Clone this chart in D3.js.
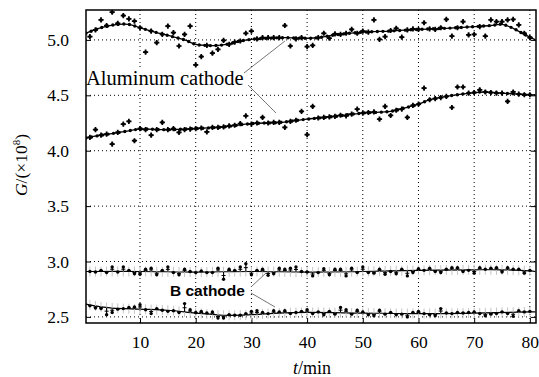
<!DOCTYPE html>
<html>
<head>
<meta charset="utf-8">
<script src="https://cdn.jsdelivr.net/npm/d3@7"></script>
<style>
  body { margin: 0; background: #fff; }
</style>
</head>
<body>
<script>
// sample times, one reading per minute
const minutes = d3.range(1, 81);

// Aluminum cathode, upper run (x10^8)
const alTopRaw = [
  5.03, 5.09, 5.18, 5.13, 5.25, 5.15, 5.22, 5.19, 5.17, 5.11,
  4.89, 5.08, 4.975, 5.05, 5.125, 5.065, 4.945, 5.05, 5.125, 4.775,
  4.85, 4.95, 4.88, 4.915, 4.995, 4.96, 4.98, 4.99, 5.06, 5.08,
  5.01, 5.02, 5.02, 5.02, 5.02, 5.13, 4.945, 5.01, 5.02, 4.94,
  4.95, 5.02, 5.06, 5.015, 5.055, 5.05, 5.06, 5.095, 5.06, 5.08,
  5.07, 5.18, 5.005, 5.03, 5.085, 5.105, 5.025, 5.09, 5.10, 5.095,
  5.155, 5.10, 5.095, 5.11, 5.185, 5.035, 5.11, 5.165, 5.045, 5.05,
  5.12, 5.035, 5.18, 5.165, 5.165, 5.18, 5.185, 5.135, 5.06, 5.02
];
const alTopFitT = [0.3, 3, 6, 8, 10, 12, 15, 18, 20, 22, 24, 26, 28, 30, 33, 36, 40, 42, 45, 50, 55, 60, 65, 70, 73, 75, 77, 79, 81];
const alTopFit = [5.06, 5.11, 5.14, 5.14, 5.11, 5.08, 5.04, 5.0, 4.96, 4.95, 4.95, 4.965, 4.99, 5.005, 5.015, 5.02, 5.015, 5.02, 5.045, 5.07, 5.08, 5.095, 5.105, 5.12, 5.13, 5.14, 5.105, 5.05, 5.0];

// Aluminum cathode, lower run
const alLowRaw = [
  4.12, 4.19, 4.14, 4.15, 4.06, 4.165, 4.24, 4.265, 4.09, 4.20,
  4.19, 4.14, 4.19, 4.255, 4.19, 4.20, 4.165, 4.19, 4.195, 4.20,
  4.205, 4.17, 4.21, 4.21, 4.215, 4.225, 4.23, 4.245, 4.315, 4.24,
  4.25, 4.30, 4.25, 4.255, 4.255, 4.21, 4.265, 4.275, 4.355, 4.145,
  4.40, 4.295, 4.30, 4.305, 4.31, 4.32, 4.315, 4.33, 4.375, 4.34,
  4.345, 4.35, 4.285, 4.40, 4.318, 4.365, 4.375, 4.30, 4.41, 4.42,
  4.565, 4.46, 4.47, 4.48, 4.49, 4.39, 4.575, 4.575, 4.52, 4.525,
  4.55, 4.53, 4.525, 4.52, 4.52, 4.445, 4.53, 4.51, 4.505, 4.505
];
const alLowFitT = [0.3, 3, 5, 8, 10, 15, 20, 25, 30, 35, 40, 45, 50, 55, 57, 60, 62, 65, 70, 72, 75, 80, 81];
const alLowFit = [4.115, 4.14, 4.155, 4.18, 4.195, 4.19, 4.2, 4.215, 4.245, 4.255, 4.285, 4.31, 4.34, 4.355, 4.38, 4.42, 4.46, 4.49, 4.525, 4.53, 4.52, 4.505, 4.505];

// B cathode, upper run
const bTopRaw = [
  2.91, 2.905, 2.92, 2.90, 2.95, 2.905, 2.95, 2.92, 2.89, 2.885,
  2.93, 2.94, 2.88, 2.92, 2.95, 2.90, 2.88, 2.93, 2.91, 2.90,
  2.915, 2.90, 2.90, 2.94, 2.84, 2.93, 2.92, 2.95, 2.98, 2.88,
  2.92, 2.93, 2.875, 2.89, 2.94, 2.93, 2.94, 2.95, 2.91, 2.905,
  2.87, 2.90, 2.935, 2.88, 2.93, 2.93, 2.87, 2.94, 2.90, 2.95,
  2.90, 2.895, 2.93, 2.885, 2.91, 2.89, 2.93, 2.87, 2.90, 2.935,
  2.92, 2.94, 2.91, 2.90, 2.93, 2.945, 2.945, 2.91, 2.92, 2.895,
  2.945, 2.93, 2.94, 2.945, 2.905, 2.945, 2.93, 2.93, 2.895, 2.92
];
const bTopFitT = [0.3, 10, 20, 30, 40, 50, 60, 70, 75, 80, 81];
const bTopFit = [2.91, 2.91, 2.905, 2.91, 2.905, 2.91, 2.92, 2.925, 2.925, 2.915, 2.91];

// B cathode, lower run
const bLowRaw = [
  2.60, 2.58, 2.575, 2.52, 2.54, 2.57, 2.575, 2.585, 2.59, 2.61,
  2.565, 2.53, 2.575, 2.56, 2.55, 2.555, 2.54, 2.62, 2.565, 2.54,
  2.55, 2.535, 2.545, 2.49, 2.49, 2.52, 2.515, 2.515, 2.53, 2.55,
  2.555, 2.54, 2.53, 2.555, 2.545, 2.555, 2.53, 2.54, 2.55, 2.565,
  2.53, 2.545, 2.52, 2.55, 2.525, 2.585, 2.565, 2.525, 2.56, 2.545,
  2.52, 2.51, 2.56, 2.525, 2.54, 2.52, 2.525, 2.50, 2.54, 2.55,
  2.53, 2.52, 2.51, 2.575, 2.535, 2.53, 2.54, 2.535, 2.54, 2.545,
  2.53, 2.51, 2.525, 2.53, 2.545, 2.53, 2.505, 2.555, 2.545, 2.55
];
const bLowFitT = [0.3, 3, 5, 10, 15, 20, 25, 30, 35, 40, 50, 60, 70, 80, 81];
const bLowFit = [2.615, 2.59, 2.58, 2.57, 2.56, 2.535, 2.515, 2.52, 2.535, 2.54, 2.535, 2.53, 2.535, 2.545, 2.545];

const xTicks = [10, 20, 30, 40, 50, 60, 70, 80];
const yTicks = [2.5, 3.0, 3.5, 4.0, 4.5, 5.0];

const width = 539, height = 377;
const margin = { top: 10, right: 3, bottom: 54, left: 86 };
const serif = "'Liberation Serif'";
const sans = "'Liberation Sans'";

const svg = d3.select('body').append('svg')
  .attr('width', width)
  .attr('height', height);

const x = d3.scaleLinear().domain([0.3, 81.1]).range([margin.left, width - margin.right]);
const y = d3.scaleLinear().domain([2.445, 5.27]).range([height - margin.bottom, margin.top]);

svg.append('clipPath').attr('id', 'plot')
  .append('rect')
  .attr('x', margin.left).attr('y', margin.top)
  .attr('width', width - margin.left - margin.right)
  .attr('height', height - margin.top - margin.bottom);

// dotted grid
const grid = svg.append('g').attr('stroke', '#000').attr('stroke-width', 1).attr('stroke-dasharray', '1 3');
grid.selectAll('.gx').data(xTicks).enter().append('line')
  .attr('x1', d => x(d)).attr('x2', d => x(d))
  .attr('y1', margin.top).attr('y2', height - margin.bottom);
grid.selectAll('.gy').data(yTicks).enter().append('line')
  .attr('x1', margin.left).attr('x2', width - margin.right)
  .attr('y1', d => y(d)).attr('y2', d => y(d));

// axes with inward ticks
const bottomAxis = svg.append('g')
  .attr('transform', `translate(0,${height - margin.bottom})`)
  .call(d3.axisBottom(x).tickValues(xTicks).tickSize(-5).tickPadding(13).tickFormat(d3.format('d')));
const leftAxis = svg.append('g')
  .attr('transform', `translate(${margin.left},0)`)
  .call(d3.axisLeft(y).tickValues(yTicks).tickSize(-5).tickPadding(17).tickFormat(d3.format('.1f')));
svg.append('g')
  .attr('transform', `translate(${width - margin.right},0)`)
  .call(d3.axisRight(y).tickValues(yTicks).tickSize(-5).tickFormat(''));

[bottomAxis, leftAxis].forEach(a => {
  a.selectAll('text')
    .style('font-family', serif)
    .style('font-size', '17.5px')
    .attr('fill', '#000');
});
svg.selectAll('.domain').remove();

// frame
svg.append('rect')
  .attr('x', margin.left).attr('y', margin.top)
  .attr('width', width - margin.left - margin.right)
  .attr('height', height - margin.top - margin.bottom)
  .attr('fill', 'none').attr('stroke', '#000').attr('stroke-width', 1.5);

const plot = svg.append('g').attr('clip-path', 'url(#plot)');

const fitLine = d3.line()
  .x(d => x(d[0]))
  .y(d => y(d[1]))
  .curve(d3.curveCatmullRom.alpha(0.5));

// Aluminum runs: smooth fit drawn as a beaded line, readings as crosses
function drawAluminum(raw, fitT, fit) {
  const pts = d3.zip(fitT, fit);
  plot.append('path').attr('d', fitLine(pts))
    .attr('fill', 'none').attr('stroke', '#000').attr('stroke-width', 1.3);
  plot.append('path').attr('d', fitLine(pts))
    .attr('fill', 'none').attr('stroke', '#000').attr('stroke-width', 3.4)
    .attr('stroke-linecap', 'round').attr('stroke-dasharray', '0 5.6');
  const g = plot.append('g');
  g.selectAll('path.m').data(d3.zip(minutes, raw)).enter().append('path')
    .attr('transform', d => `translate(${x(d[0])},${y(d[1])})`)
    .attr('d', d3.symbol(d3.symbolCross).size(15))
    .attr('fill', '#000');
  g.selectAll('circle').data(d3.zip(minutes, raw)).enter().append('circle')
    .attr('cx', d => x(d[0])).attr('cy', d => y(d[1]))
    .attr('r', 1.7).attr('fill', '#000');
}

// B runs: fit line, readings as dots on stems back to the fit
function drawB(raw, fitT, fit) {
  const pts = d3.zip(fitT, fit);
  const path = plot.append('path').attr('d', fitLine(pts))
    .attr('fill', 'none').attr('stroke', '#000').attr('stroke-width', 1.2);
  const node = path.node();
  const total = node.getTotalLength();
  // y of the fit line at a given pixel x
  const fitAt = px => {
    let lo = 0, hi = total;
    for (let i = 0; i < 30; i++) {
      const mid = (lo + hi) / 2;
      if (node.getPointAtLength(mid).x < px) lo = mid; else hi = mid;
    }
    return node.getPointAtLength(lo).y;
  };
  const data = d3.zip(minutes, raw).map(d => ({ px: x(d[0]), py: y(d[1]), fy: fitAt(x(d[0])) }));
  const g = plot.append('g');
  g.selectAll('line.halo').data(data).enter().append('line')
    .attr('x1', d => d.px).attr('x2', d => d.px)
    .attr('y1', d => d.fy - 5).attr('y2', d => d.fy + 5)
    .attr('stroke', '#c4c4c4').attr('stroke-width', 1);
  g.selectAll('line.stem').data(data).enter().append('line')
    .attr('x1', d => d.px).attr('x2', d => d.px)
    .attr('y1', d => d.fy).attr('y2', d => d.py)
    .attr('stroke', '#000').attr('stroke-width', 1.1);
  g.selectAll('line.bar').data(data).enter().append('line')
    .attr('x1', d => d.px - 2).attr('x2', d => d.px + 2)
    .attr('y1', d => (d.fy + d.py) / 2).attr('y2', d => (d.fy + d.py) / 2)
    .attr('stroke', '#000').attr('stroke-width', 1);
  g.selectAll('circle').data(data).enter().append('circle')
    .attr('cx', d => d.px).attr('cy', d => d.py)
    .attr('r', 1.7).attr('fill', '#000');
}

drawAluminum(alTopRaw, alTopFitT, alTopFit);
drawAluminum(alLowRaw, alLowFitT, alLowFit);
drawB(bTopRaw, bTopFitT, bTopFit);
drawB(bLowRaw, bLowFitT, bLowFit);

// annotations
const note = svg.append('g');
note.append('rect')
  .attr('x', margin.left + 1).attr('y', 68).attr('width', 158).attr('height', 21)
  .attr('fill', '#fff');
note.append('text')
  .attr('x', margin.left).attr('y', 85)
  .style('font-family', serif)
  .style('font-size', '20.5px')
  .text('Aluminum cathode');
note.append('line').attr('x1', 244).attr('y1', 73).attr('x2', 285).attr('y2', 41)
  .attr('stroke', '#777').attr('stroke-width', 1);
note.append('line').attr('x1', 248).attr('y1', 85).attr('x2', 276).attr('y2', 113)
  .attr('stroke', '#777').attr('stroke-width', 1);

note.append('text')
  .attr('x', 170).attr('y', 296)
  .style('font-family', sans)
  .style('font-weight', 'bold').style('font-size', '15.5px')
  .text('B cathode');
note.append('line').attr('x1', 251).attr('y1', 287).attr('x2', 266).attr('y2', 273)
  .attr('stroke', '#777').attr('stroke-width', 1);
note.append('line').attr('x1', 251).attr('y1', 293).attr('x2', 275).attr('y2', 307)
  .attr('stroke', '#777').attr('stroke-width', 1);

// axis titles
const yTitle = svg.append('text')
  .attr('transform', 'translate(27,165) rotate(-90)')
  .attr('text-anchor', 'middle')
  .style('font-family', serif)
  .style('font-size', '17.5px');
yTitle.append('tspan').style('font-style', 'italic').text('G');
yTitle.append('tspan').text('/(\u00d710');
yTitle.append('tspan').style('font-size', '11px').attr('dy', -7).text('8');
yTitle.append('tspan').attr('dy', 7).text(')');

const xTitle = svg.append('text')
  .attr('x', 312).attr('y', 374)
  .attr('text-anchor', 'middle')
  .style('font-family', serif)
  .style('font-size', '18px');
xTitle.append('tspan').style('font-style', 'italic').text('t');
xTitle.append('tspan').text('/min');
</script>
</body>
</html>
